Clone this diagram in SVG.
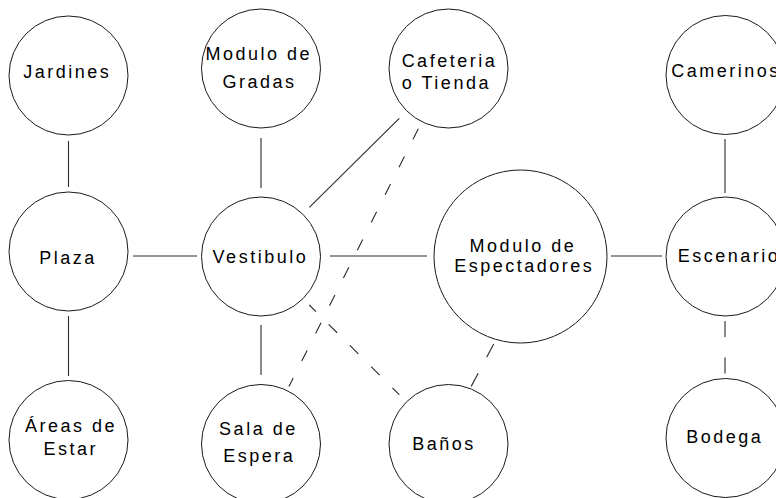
<svg xmlns="http://www.w3.org/2000/svg" width="776" height="498" viewBox="0 0 776 498">
<style>
.n circle{fill:#fff;stroke:#1a1a1a;stroke-width:1}
.n text{font-family:"Liberation Sans",Arial,sans-serif;font-size:18px;letter-spacing:2.5px;fill:#000;text-anchor:middle}
#connectors line{stroke:#2a2a2a;stroke-width:1.1;fill:none}
.d1{stroke-dasharray:12 19}
.d2{stroke-dasharray:12 18;stroke-dashoffset:2.7}
.d3{stroke-dasharray:15 18}
.d4{stroke-dasharray:16 20.5}
</style>
<rect width="776" height="498" fill="#fff"/>
<g id="connectors">
<line x1="68.5" y1="141" x2="68.5" y2="187"/>
<line x1="68.5" y1="316" x2="68.5" y2="376"/>
<line x1="133" y1="256" x2="197" y2="256"/>
<line x1="261" y1="138" x2="261" y2="188"/>
<line x1="261" y1="325" x2="261" y2="375"/>
<line x1="330" y1="256" x2="427" y2="256"/>
<line x1="611" y1="256" x2="662" y2="256"/>
<line x1="725" y1="139" x2="725" y2="193"/>
<line class="d4" x1="725" y1="321" x2="725" y2="375"/>
<line x1="309.3" y1="207.3" x2="399.3" y2="118.3"/>
<line class="d1" x1="418.3" y1="128.7" x2="289" y2="386.5"/>
<line class="d2" x1="309.3" y1="305" x2="399.3" y2="394.7"/>
<line class="d3" x1="493.7" y1="344" x2="471" y2="386.7"/>
</g>
<g id="jardines" class="n"><circle cx="68.5" cy="75.5" r="59.5"/><text x="67.3" y="78.3">Jardines</text></g>
<g id="gradas" class="n"><circle cx="261" cy="68.5" r="59.5"/><text x="258.8" y="60">Modulo de</text><text x="259.5" y="87.7">Gradas</text></g>
<g id="cafeteria" class="n"><circle cx="448.5" cy="68.5" r="59.5"/><text x="449.4" y="66.7">Cafeteria</text><text x="446.4" y="89.3">o Tienda</text></g>
<g id="camerinos" class="n"><circle cx="725.5" cy="75" r="59.5"/><text x="726" y="77.3">Camerinos</text></g>
<g id="plaza" class="n"><circle cx="68.5" cy="251.5" r="59.5"/><text x="68" y="264">Plaza</text></g>
<g id="vestibulo" class="n"><circle cx="261" cy="256.5" r="59.5"/><text x="260.4" y="263">Vestibulo</text></g>
<g id="espectadores" class="n"><circle cx="520.5" cy="256.5" r="86.5"/><text x="522.9" y="252.3">Modulo de</text><text x="524.2" y="271.7">Espectadores</text></g>
<g id="escenario" class="n"><circle cx="725.5" cy="256.5" r="59.5"/><text x="729" y="262">Escenario</text></g>
<g id="areas" class="n"><circle cx="68.5" cy="440" r="59.5"/><text x="70.9" y="432.3">Áreas de</text><text x="70.7" y="454.7">Estar</text></g>
<g id="sala" class="n"><circle cx="261" cy="444" r="59.5"/><text x="258.4" y="435.3">Sala de</text><text x="259.2" y="462">Espera</text></g>
<g id="banos" class="n"><circle cx="448.5" cy="444" r="59.5"/><text x="444" y="449.7">Baños</text></g>
<g id="bodega" class="n"><circle cx="725.5" cy="438" r="59.5"/><text x="724.8" y="443.3">Bodega</text></g>
</svg>
